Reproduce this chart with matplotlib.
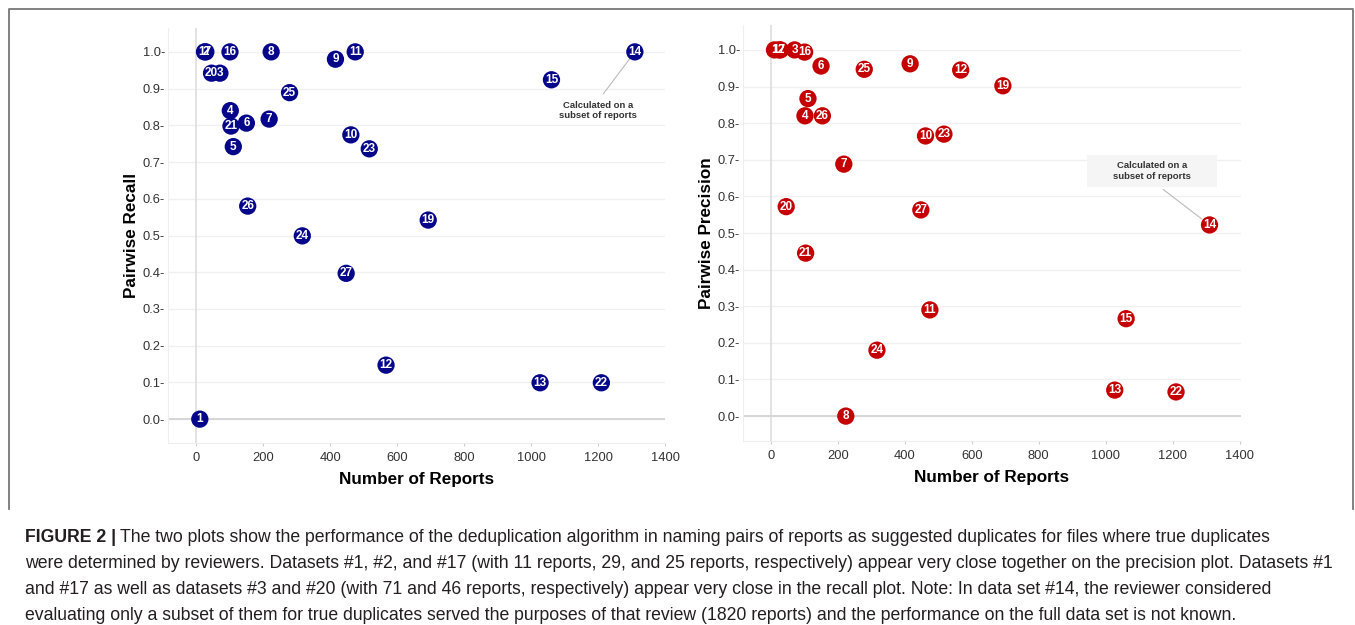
import matplotlib
matplotlib.use("Agg")
import matplotlib.pyplot as plt
from matplotlib.lines import Line2D
from matplotlib.patches import Rectangle

plt.rcParams['font.family'] = ['Liberation Sans', 'DejaVu Sans']

# ---- data ----
dataset_ids = [1, 2, 3, 4, 5, 6, 7, 8, 9, 10, 11, 12, 13, 14, 15, 16, 17, 19, 20, 21, 22, 23, 24, 25, 26, 27]
n_reports = [11, 29, 71, 102, 111, 150, 218, 224, 416, 462, 475, 567, 1027, 1310, 1061, 101, 25, 693, 46, 104, 1210, 517, 317, 279, 154, 448]
recall = [0.0, 1.0, 0.942, 0.840, 0.742, 0.806, 0.817, 1.0, 0.980, 0.774, 1.0, 0.147, 0.099, 1.0, 0.924, 1.0, 1.0,
          0.542, 0.942, 0.798, 0.099, 0.736, 0.499, 0.889, 0.580, 0.397]
precision = [1.0, 1.0, 1.0, 0.820, 0.867, 0.956, 0.688, 0.0, 0.962, 0.765, 0.290, 0.945, 0.071, 0.522, 0.266, 0.994, 1.0,
             0.902, 0.572, 0.445, 0.066, 0.770, 0.180, 0.947, 0.820, 0.563]
x_ticks = [0, 200, 400, 600, 800, 1000, 1200, 1400]
y_ticks = [0.0, 0.1, 0.2, 0.3, 0.4, 0.5, 0.6, 0.7, 0.8, 0.9, 1.0]
note_text = "Calculated on a\nsubset of reports"
note_id = 14

W, H = 1355, 625
fig = plt.figure(figsize=(W / 100, H / 100), dpi=100)


def px_axes(x0, y0, x1, y1):
    return fig.add_axes([x0 / W, 1 - y1 / H, (x1 - x0) / W, (y1 - y0) / H])


def style(ax, ylabel, xlim, ylim):
    ax.set_xlim(*xlim)
    ax.set_ylim(*ylim)
    ax.set_xticks(x_ticks)
    ax.set_yticks(y_ticks)
    ax.set_yticklabels([f"{v:.1f}-" for v in y_ticks])
    ax.set_xticklabels([str(v) for v in x_ticks])
    for s in ['top', 'right']:
        ax.spines[s].set_visible(False)
    for s in ['left', 'bottom']:
        ax.spines[s].set_color('#eeeeee')
        ax.spines[s].set_linewidth(0.8)
    ax.tick_params(axis='y', length=0, pad=2, labelsize=9.3, labelcolor='#333333')
    ax.tick_params(axis='x', length=2.5, width=0.8, color='#cccccc', pad=4, labelsize=9.3, labelcolor='#333333')
    ax.yaxis.grid(True, color='#f0f0f0', lw=1.0)
    ax.xaxis.grid(False)
    ax.set_axisbelow(True)
    ax.axvline(0, color='#dddddd', lw=1.2, zorder=1)
    ax.axhline(0, color='#d6d6d6', lw=1.4, zorder=1)
    ax.set_xlabel("Number of Reports", fontsize=12.3, fontweight='bold', labelpad=6)
    ax.set_ylabel(ylabel, fontsize=12.3, fontweight='bold', labelpad=3)


def draw_points(ax, yvals, color):
    ax.scatter(n_reports, yvals, s=155, color=color, edgecolors='none', zorder=3)
    for i, x, y in zip(dataset_ids, n_reports, yvals):
        ax.text(x, y, str(i), color='white', fontsize=8.5, fontweight='bold',
                ha='center', va='center', zorder=4)


# left: recall
ax1 = px_axes(168, 28, 665, 443)
style(ax1, "Pairwise Recall", (-84, 1400), (-0.065, 1.065))
draw_points(ax1, recall, '#06068a')
k = dataset_ids.index(note_id)
ax1.annotate(note_text, xy=(n_reports[k], recall[k]), xytext=(1200, 0.84),
             ha='center', va='center', fontsize=6.8, fontweight='bold', color='#333333',
             arrowprops=dict(arrowstyle='-', color='#bbbbbb', lw=0.8, relpos=(0.5, 1.0),
                             shrinkA=4, shrinkB=6), zorder=2)

# right: precision
ax2 = px_axes(743, 25, 1241, 441)
style(ax2, "Pairwise Precision", (-83, 1404), (-0.068, 1.068))
draw_points(ax2, precision, '#c40000')
ax2.add_patch(Rectangle((944, 0.626), 388, 0.087, facecolor='#f5f5f5', edgecolor='none', zorder=1.5))
ax2.annotate(note_text, xy=(n_reports[k], precision[k]), xytext=(1138, 0.669),
             ha='center', va='center', fontsize=6.8, fontweight='bold', color='#333333',
             arrowprops=dict(arrowstyle='-', color='#bbbbbb', lw=0.8, relpos=(0.5, 0.0),
                             shrinkA=7, shrinkB=7), zorder=2)

# frame around plot area
bx0, bx1, by0, by1 = 9, 1353, 8.5, 509
fig.add_artist(Line2D([bx0 / W, bx0 / W, bx1 / W, bx1 / W],
                      [1 - by1 / H, 1 - by0 / H, 1 - by0 / H, 1 - by1 / H],
                      transform=fig.transFigure, color='#777777', lw=1.3))

# caption
cap_lines = [
    "The two plots show the performance of the deduplication algorithm in naming pairs of reports as suggested duplicates for files where true duplicates",
    "were determined by reviewers. Datasets #1, #2, and #17 (with 11 reports, 29, and 25 reports, respectively) appear very close together on the precision plot. Datasets #1",
    "and #17 as well as datasets #3 and #20 (with 71 and 46 reports, respectively) appear very close in the recall plot. Note: In data set #14, the reviewer considered",
    "evaluating only a subset of them for true duplicates served the purposes of that review (1820 reports) and the performance on the full data set is not known.",
]
cap_y = [538, 564, 590, 616]
cap_fs = 12.7
fig.canvas.draw()
r = fig.canvas.get_renderer()
t0 = fig.text(25 / W, 1 - cap_y[0] / H, "FIGURE 2 |", fontsize=cap_fs, fontweight='bold',
              color='#231f20', va='center', ha='left')
bb = t0.get_window_extent(renderer=r)
fig.text((bb.x1 + 4) / W, 1 - cap_y[0] / H, cap_lines[0], fontsize=cap_fs, color='#231f20',
         va='center', ha='left')
for line, yy in zip(cap_lines[1:], cap_y[1:]):
    fig.text(25 / W, 1 - yy / H, line, fontsize=cap_fs, color='#231f20', va='center', ha='left')

fig.savefig("out.png", dpi=100, facecolor='white')
